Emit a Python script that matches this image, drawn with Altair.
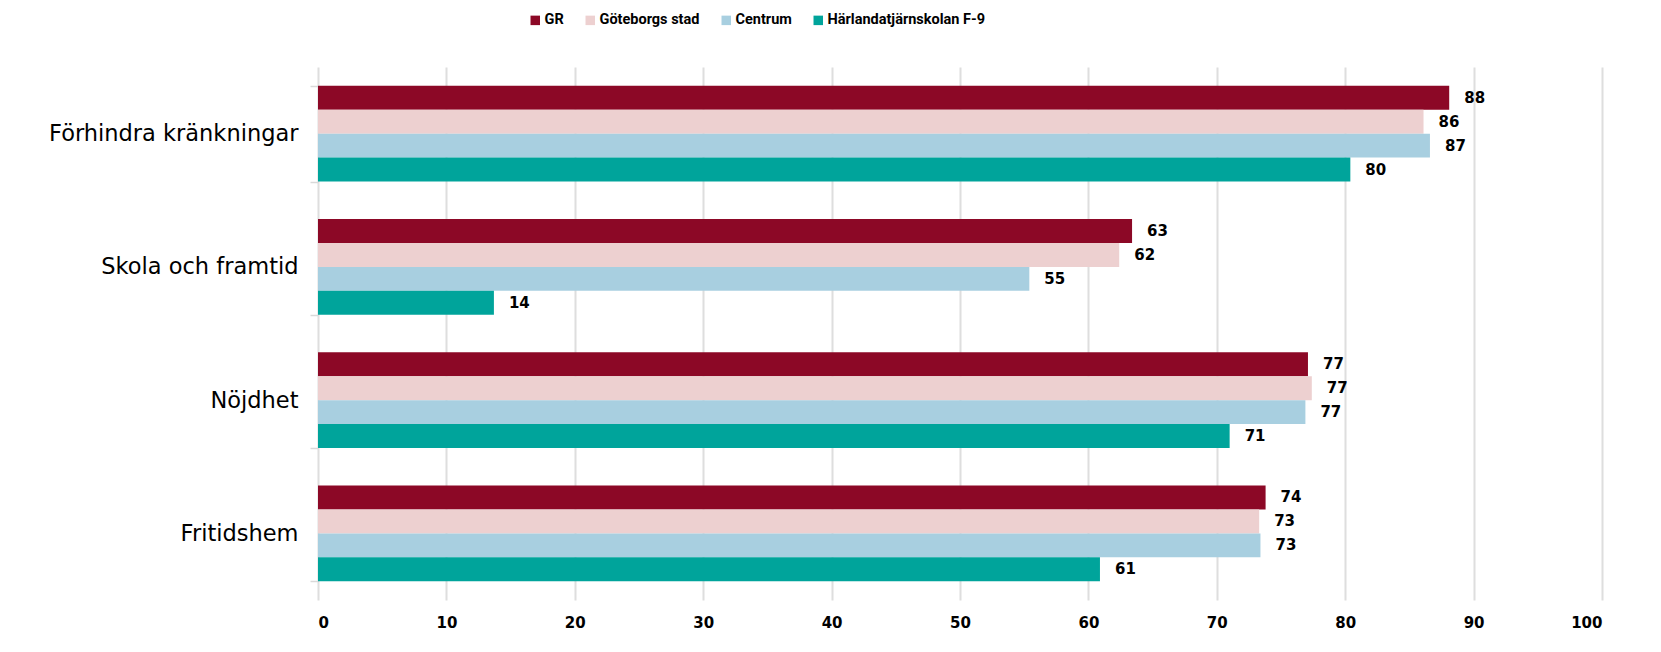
import altair as alt
import pandas as pd

categories = ["Förhindra kränkningar", "Skola och framtid", "Nöjdhet", "Fritidshem"]
series = ["GR", "Göteborgs stad", "Centrum", "Härlandatjärnskolan F-9"]
gr = [88.1, 63.4, 77.1, 73.8]
gbg = [86.1, 62.4, 77.4, 73.3]
centrum = [86.6, 55.4, 76.9, 73.4]
harl = [80.4, 13.7, 71.0, 60.9]
colors = ["#8C0826", "#EDD0D0", "#A8CFE0", "#00A49B"]
x_ticks = list(range(0, 101, 10))

rows = []
for s, vals in zip(series, [gr, gbg, centrum, harl]):
    for c, v in zip(categories, vals):
        rows.append({"category": c, "series": s, "value": v, "label": str(int(round(v)))})
df = pd.DataFrame(rows)

base = alt.Chart(df).encode(
    y=alt.Y(
        "category:N",
        sort=categories,
        scale=alt.Scale(paddingInner=0.28, paddingOuter=0.14),
        axis=alt.Axis(
            title=None,
            labelFont="DejaVu Sans",
            labelFontSize=22.5,
            labelColor="black",
            labelPadding=12,
            labelLimit=0,
            ticks=True,
            tickBand="extent",
            tickColor="#D9D9D9",
            tickWidth=1.5,
            tickSize=8,
            domain=False,
            grid=False,
        ),
    ),
    yOffset=alt.YOffset("series:N", sort=series, scale=alt.Scale(paddingInner=0, paddingOuter=0)),
)

bars = base.mark_bar().encode(
    x=alt.X(
        "value:Q",
        scale=alt.Scale(domain=[0, 100], nice=False),
        axis=alt.Axis(
            values=x_ticks,
            title=None,
            grid=True,
            gridColor="#DEDEDE",
            gridWidth=2,
            domain=False,
            ticks=False,
            labelFont="DejaVu Sans",
            labelFontWeight="bold",
            labelFontSize=15,
            labelColor="black",
            labelPadding=15,
        ),
    ),
    color=alt.Color(
        "series:N",
        scale=alt.Scale(domain=series, range=colors),
        legend=alt.Legend(
            title=None,
            orient="none",
            direction="horizontal",
            legendX=210,
            legendY=-54,
            symbolType="square",
            symbolSize=90,
            symbolStrokeWidth=0,
            labelFont="Roboto",
            labelFontWeight="bold",
            labelFontSize=14.5,
            labelColor="black",
            labelOffset=2,
            columnPadding=19,
            padding=0,
        ),
    ),
)

text = base.mark_text(
    align="left", baseline="middle", dx=15, font="DejaVu Sans", fontWeight="bold", fontSize=15, color="black"
).encode(x=alt.X("value:Q"), text="label:N")

chart = (
    alt.layer(bars, text)
    .properties(
        width=1284,
        height=533,
        padding={"left": 310, "top": 59, "right": 40, "bottom": 40},
        autosize=alt.AutoSizeParams(type="none"),
    )
    .configure_view(stroke=None)
)

chart.save("out.html", embed_options={"renderer": "svg", "actions": False})
